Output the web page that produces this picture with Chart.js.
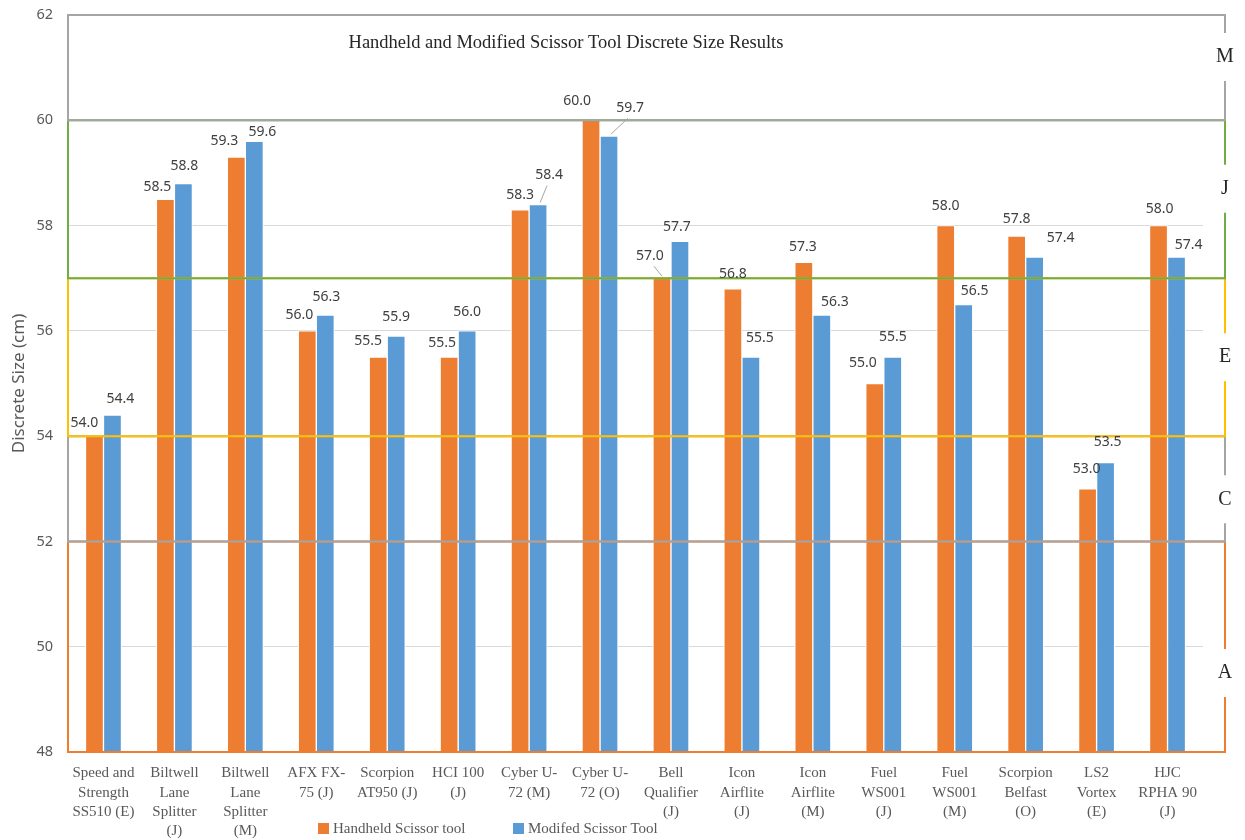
<!DOCTYPE html>
<html>
<head>
<meta charset="utf-8">
<title>Handheld and Modified Scissor Tool Discrete Size Results</title>
<script src="https://cdn.jsdelivr.net/npm/chart.js@4.4.1/dist/chart.umd.min.js"></script>
<style>
  html, body { margin: 0; padding: 0; background: #fff; }
  #wrap { width: 1245px; height: 840px; position: relative; }
</style>
</head>
<body>
<div id="wrap"><canvas id="chart"></canvas></div>
<script>
// helmet names (wrapped the way the axis shows them)
const helmets = [
    ['Speed and', 'Strength', 'SS510 (E)'],
    ['Biltwell', 'Lane', 'Splitter', '(J)'],
    ['Biltwell', 'Lane', 'Splitter', '(M)'],
    ['AFX FX-', '75 (J)'],
    ['Scorpion', 'AT950 (J)'],
    ['HCI 100', '(J)'],
    ['Cyber U-', '72 (M)'],
    ['Cyber U-', '72 (O)'],
    ['Bell', 'Qualifier', '(J)'],
    ['Icon', 'Airflite', '(J)'],
    ['Icon', 'Airflite', '(M)'],
    ['Fuel', 'WS001', '(J)'],
    ['Fuel', 'WS001', '(M)'],
    ['Scorpion', 'Belfast', '(O)'],
    ['LS2', 'Vortex', '(E)'],
    ['HJC', 'RPHA 90', '(J)']
];

const handheldSizes = [54.0, 58.5, 59.3, 56.0, 55.5, 55.5, 58.3, 60.0, 57.0, 56.8, 57.3, 55.0, 58.0, 57.8, 53.0, 58.0];
const modifiedSizes = [54.4, 58.8, 59.6, 56.3, 55.9, 56.0, 58.4, 59.7, 57.7, 55.5, 56.3, 55.5, 56.5, 57.4, 53.5, 57.4];

// size bands (cm)
const bandNames = ['A', 'C', 'E', 'J', 'M'];
const bandLow = [48, 52, 54, 57, 60];
const bandHigh = [52, 54, 57, 60, 62];

const yTicks = [48, 50, 52, 54, 56, 58, 60, 62];

const ORANGE = '#ED7D31';
const BLUE = '#5B9BD5';
const bandColors = ['#ED7D31', '#A5A5A5', '#FFC000', '#70AD47', '#A5A5A5'];

// label nudges relative to top of bar [dx, dy]
const labelShift = [
    [[-10,-13],[-8,-12],[-12,-16],[-8,-16],[-10,-16],[-7,-14],[0,-15],[-14,-19],[-12,-22],[0,-15],[-1,-15],[-12,-20],[0,-20],[0,-17],[-1,-20],[1,-17]],
    [[8,-16],[1,-17],[8,-9],[1,-18],[0,-19],[0,-19],[11,-29],[21,-28],[-3,-14],[9,-19],[13,-13],[0,-20],[11,-14],[26,-19],[2,-20],[12,-12]]
];
const leaders = { '1-6': true, '1-7': true, '0-8': true };

const bandPlugin = {
    id: 'bands',
    afterDatasetsDraw(chart) {
        const { ctx, chartArea, scales: { y } } = chart;
        const left = chartArea.left;
        const right = chartArea.right + 22;
        const labelAt = [49.5, 52.8, 55.5, 58.7, 61.2];
        ctx.save();
        ctx.lineWidth = 2;
        bandNames.forEach((name, i) => {
            const top = y.getPixelForValue(bandHigh[i]);
            const bot = y.getPixelForValue(bandLow[i]);
            const ly = y.getPixelForValue(labelAt[i]);
            ctx.strokeStyle = bandColors[i];
            ctx.beginPath();
            ctx.moveTo(right, ly - 24);
            ctx.lineTo(right, top);
            ctx.lineTo(left, top);
            ctx.lineTo(left, bot);
            ctx.lineTo(right, bot);
            ctx.lineTo(right, ly + 24);
            ctx.stroke();
            ctx.fillStyle = '#262626';
            ctx.font = '20px "Liberation Serif"';
            ctx.textAlign = 'center';
            ctx.textBaseline = 'middle';
            ctx.fillText(name, right, ly);
        });
        ctx.restore();
    },
    afterDraw(chart) {
        const { ctx, chartArea } = chart;
        ctx.save();
        // value labels
        ctx.font = '14px "Noto Sans"';
        ctx.fillStyle = '#404040';
        ctx.textAlign = 'center';
        ctx.textBaseline = 'middle';
        chart.data.datasets.forEach((ds, di) => {
            chart.getDatasetMeta(di).data.forEach((bar, i) => {
                const [dx, dy] = labelShift[di][i];
                const lx = bar.x + dx, ly = bar.y + dy;
                ctx.fillText(ds.data[i].toFixed(1), lx, ly);
                if (leaders[di + '-' + i]) {
                    ctx.strokeStyle = '#A6A6A6';
                    ctx.lineWidth = 1;
                    ctx.beginPath();
                    ctx.moveTo(lx + (bar.x > lx ? 4 : -2), ly + 10);
                    ctx.lineTo(bar.x + (bar.x > lx ? 0 : 2), bar.y - 2);
                    ctx.stroke();
                }
            });
        });
        // title inside the plot
        ctx.fillStyle = '#262626';
        ctx.font = '18.5px "Liberation Serif"';
        ctx.fillText('Handheld and Modified Scissor Tool Discrete Size Results', chartArea.left + 498, chartArea.top + 28);
        // legend
        ctx.font = '15px "Liberation Serif"';
        ctx.textAlign = 'left';
        let x = 318;
        const ly = 829;
        chart.data.datasets.forEach(ds => {
            ctx.fillStyle = ds.backgroundColor;
            ctx.fillRect(x, ly - 6, 11, 11);
            ctx.fillStyle = '#595959';
            ctx.fillText(ds.label, x + 15, ly);
            x += 195;
        });
        ctx.restore();
    }
};

new Chart(document.getElementById('chart'), {
    type: 'bar',
    data: {
        labels: helmets,
        datasets: [
            { label: 'Handheld Scissor tool', data: handheldSizes, backgroundColor: ORANGE, borderColor: '#fff', borderWidth: 1, barThickness: 18 },
            { label: 'Modifed Scissor Tool', data: modifiedSizes, backgroundColor: BLUE, borderColor: '#fff', borderWidth: 1, barThickness: 18 }
        ]
    },
    options: {
        responsive: true,
        maintainAspectRatio: false,
        animation: false,
        layout: { padding: { left: 0, right: 42, top: 15, bottom: 0 } },
        plugins: { legend: { display: false }, tooltip: { enabled: false } },
        scales: {
            x: {
                grid: { display: false },
                border: { display: false },
                ticks: { color: '#595959', font: { family: 'Liberation Serif', size: 15, lineHeight: 1.27 }, maxRotation: 0, autoSkip: false, padding: 4 },
                afterFit: s => { s.height = 88; s.paddingTop = 0; s.paddingBottom = 0; }
            },
            y: {
                min: 48,
                max: 62,
                afterBuildTicks: s => { s.ticks = yTicks.map(v => ({ value: v })); },
                grid: { color: '#D9D9D9', drawTicks: false },
                border: { display: false },
                ticks: { color: '#595959', font: { family: 'Noto Sans', size: 14.5 }, padding: 15 },
                title: { display: true, text: 'Discrete Size (cm)', color: '#595959', font: { family: 'Noto Sans', size: 17 }, padding: { top: 9, bottom: 0 } },
                afterFit: s => { s.width = 68; s.paddingTop = 0; s.paddingBottom = 0; }
            }
        }
    },
    plugins: [bandPlugin]
});
</script>
</body>
</html>
